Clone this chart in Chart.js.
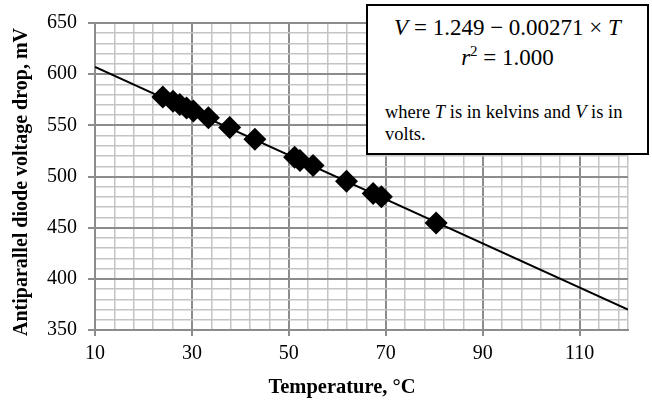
<!DOCTYPE html>
<html>
<head>
<meta charset="utf-8">
<script src="https://cdn.jsdelivr.net/npm/chart.js@4.4.1/dist/chart.umd.min.js"></script>
<style>
  html, body { margin: 0; padding: 0; background: #fff; }
  #wrap { position: relative; width: 652px; height: 402px; }
  #eqBox {
    position: absolute; left: 366px; top: 4px; width: 283px; height: 151px;
    box-sizing: border-box; border: 2px solid #000; background: #fff;
    font-family: 'Liberation Serif', 'Times New Roman', serif; color: #000;
  }
  #eqBox div { position: absolute; white-space: nowrap; }
  .eq { left: 0; right: 0; text-align: center; font-size: 23px; line-height: 23px; }
  .note { left: 17px; font-size: 18.5px; line-height: 18px; }
  sup { font-size: 15px; line-height: 0; }
</style>
</head>
<body>
<div id="wrap">
  <canvas id="diodeChart" width="652" height="402"></canvas>
  <div id="eqBox">
    <div class="eq" style="top:10px"><i>V</i> = 1.249 − 0.00271 × <i>T</i></div>
    <div class="eq" style="top:40px"><i>r</i><sup>2</sup> = 1.000</div>
    <div class="note" style="top:97px">where <i>T</i> is in kelvins and <i>V</i> is in</div>
    <div class="note" style="top:119px">volts.</div>
  </div>
</div>
<script>
const tempC  = [24.0, 26.1, 27.5, 28.9, 30.3, 33.4, 37.8, 43.0, 51.2, 52.3, 55.0, 61.9, 67.4, 69.1, 80.4];
const dropMV = [577.7, 573.5, 570.3, 567.0, 563.9, 557.4, 547.8, 536.5, 518.9, 515.7, 510.8, 495.4, 483.5, 480.3, 454.5];

// fitted line, end points at the axis limits
const fitT  = [10, 120];
const fitMV = [607, 370];

// tick labels / major grid
const xMajor = [10, 30, 50, 70, 90, 110];
const yMajor = [350, 400, 450, 500, 550, 600, 650];

// minor grid: every 4 °C, every 10 mV
const xGrid = [];
for (let v = 10; v < 120; v += 4) xGrid.push(v);
xGrid.push(120);
const yGrid = [];
for (let v = 350; v <= 650; v += 10) yGrid.push(v);

const MAJOR = '#8c8c8c', MINOR = '#c4c4c4';
const serif = "'Liberation Serif', 'Times New Roman', serif";

const axisTitles = {
  id: 'axisTitles',
  afterDraw(chart) {
    const c = chart.ctx;
    c.save();
    c.fillStyle = '#000';
    c.font = 'bold 20.5px ' + serif;
    c.textAlign = 'center';
    c.textBaseline = 'alphabetic';
    c.fillText('Temperature, °C', 342, 393);
    c.font = 'bold 20px ' + serif;
    c.translate(27, 182);
    c.rotate(-Math.PI / 2);
    c.fillText('Antiparallel diode voltage drop, mV', 0, 0);
    c.restore();
  }
};

new Chart(document.getElementById('diodeChart'), {
  type: 'scatter',
  data: {
    datasets: [
      {
        label: 'data',
        data: tempC.map((t, i) => ({ x: t, y: dropMV[i] })),
        pointStyle: 'rectRot',
        pointRadius: 11.5,
        backgroundColor: '#000',
        borderWidth: 0
      },
      {
        label: 'fit',
        data: fitT.map((t, i) => ({ x: t, y: fitMV[i] })),
        showLine: true,
        pointRadius: 0,
        borderColor: '#000',
        borderWidth: 2
      }
    ]
  },
  options: {
    responsive: false,
    animation: false,
    layout: { padding: { top: 19, right: 24, left: 0, bottom: 0 } },
    plugins: { legend: { display: false }, tooltip: { enabled: false } },
    scales: {
      x: {
        type: 'linear', min: 10, max: 120,
        afterBuildTicks: s => { s.ticks = xGrid.map(v => ({ value: v })); },
        afterFit: s => { s.height = 72; },
        ticks: {
          autoSkip: false, maxRotation: 0, padding: 6,
          color: '#000', font: { family: serif, size: 20 },
          callback: v => xMajor.includes(v) ? v : ''
        },
        grid: {
          color: ctx => xMajor.includes(ctx.tick.value) ? MAJOR : MINOR,
          lineWidth: ctx => xMajor.includes(ctx.tick.value) ? 2 : 1.5,
          tickColor: ctx => xMajor.includes(ctx.tick.value) ? MAJOR : 'rgba(0,0,0,0)',
          tickLength: 6
        },
        border: { color: MAJOR, width: 2 }
      },
      y: {
        type: 'linear', min: 350, max: 650,
        afterBuildTicks: s => { s.ticks = yGrid.map(v => ({ value: v })); },
        afterFit: s => { s.width = 95; },
        ticks: {
          autoSkip: false, padding: 11,
          color: '#000', font: { family: serif, size: 20 },
          callback: v => yMajor.includes(v) ? v : ''
        },
        grid: {
          color: ctx => yMajor.includes(ctx.tick.value) ? MAJOR : MINOR,
          lineWidth: ctx => yMajor.includes(ctx.tick.value) ? 2 : 1.5,
          tickColor: ctx => yMajor.includes(ctx.tick.value) ? MAJOR : 'rgba(0,0,0,0)',
          tickLength: 7
        },
        border: { color: MAJOR, width: 2 }
      }
    }
  },
  plugins: [axisTitles]
});
</script>
</body>
</html>
